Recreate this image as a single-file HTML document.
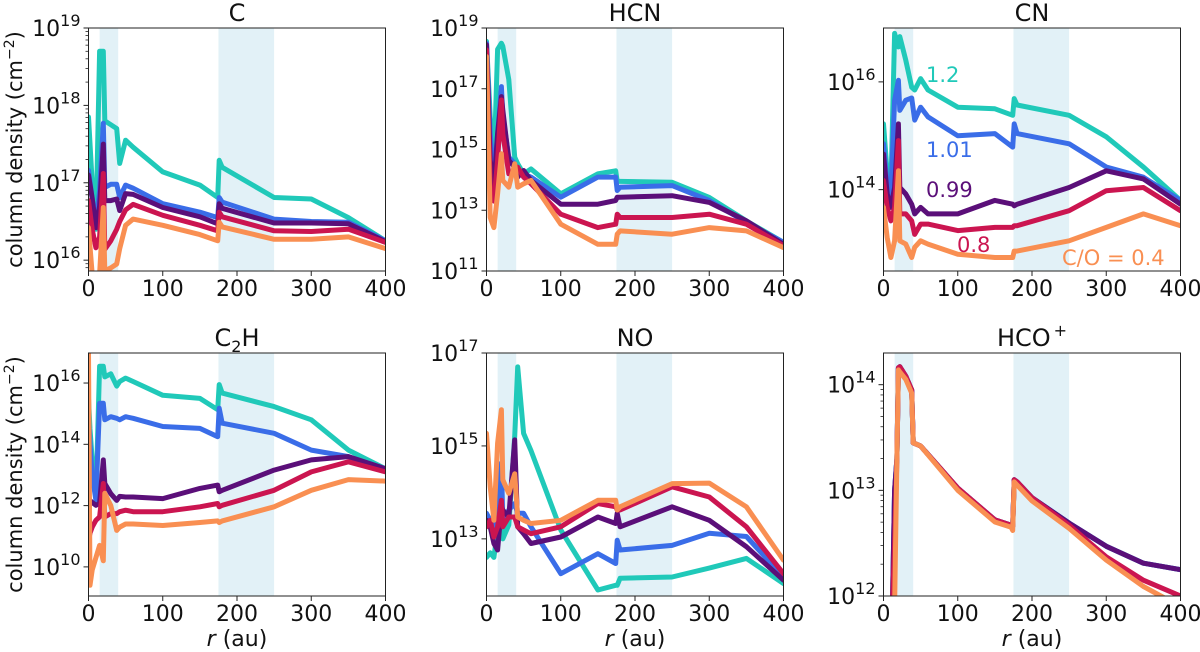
<!DOCTYPE html>
<html><head><meta charset="utf-8"><style>
html,body{margin:0;padding:0;background:#fff;width:1200px;height:652px;overflow:hidden}
svg{display:block;font-family:"DejaVu Sans","Liberation Sans",sans-serif}
</style></head><body>
<svg id="fig" width="1200" height="652" viewBox="0 0 1200 652"></svg>
<script>
const gridA = [0,5,10,15,20,22,30,38,42,50,60,100,150,174,176,180,250,300,350,400];
const gridC2H = [0,2,5,10,15,20,22,30,38,42,50,60,100,150,174,176,180,250,300,350,400];
const gridHCO = [0,12,15,18,20,22,30,38,40,50,100,150,172,174,176,180,200,250,300,350,400];
const seriesNames = ["1.2","1.01","0.99","0.8","0.4"];
const seriesColors = ["#20c9b9","#3a6de8","#5b0f79","#cb1550","#f98f52"];
const xTicks = [0,100,200,300,400];
const bands = [[15,40],[175,250]];

const cTeal=[17.85,17.0,16.4,18.7,18.7,17.8,17.75,17.7,17.25,17.55,17.46,17.14,16.97,16.81,17.29,17.2,16.81,16.79,16.55,16.25];
const cBlue=[17.16,16.8,16.47,16.9,17.77,16.94,16.98,16.98,16.81,16.97,16.93,16.73,16.62,16.55,16.81,16.75,16.53,16.5,16.49,16.25];
const cPurple=[17.1,16.8,16.42,16.7,17.5,16.77,16.77,16.79,16.64,16.86,16.85,16.68,16.56,16.47,16.73,16.67,16.48,16.48,16.47,16.24];
const cRed=[16.77,16.4,16.16,16.3,17.12,16.14,16.25,16.4,16.5,16.65,16.72,16.58,16.45,16.38,16.62,16.56,16.38,16.37,16.4,16.23];
const cOrange=[16.42,15.82,15.82,15.82,16.68,15.86,15.9,15.95,16.15,16.45,16.53,16.45,16.33,16.25,16.49,16.43,16.27,16.27,16.3,16.15];

const hcnTeal=[18.56,16.1,14.4,18.3,18.5,18.4,17.3,14.75,14.53,14.2,14.36,13.54,14.2,14.3,13.95,13.95,13.92,13.42,12.65,11.94];
const hcnBlue=[18.5,15.52,14.0,15.5,17.07,16.1,14.75,14.53,14.31,14.2,14.09,13.43,14.09,14.09,13.65,13.76,13.81,13.32,12.6,11.94];
const hcnPurple=[18.45,14.64,13.76,15.52,16.74,16.3,14.64,14.42,14.09,14.31,13.98,13.2,13.2,13.32,13.43,13.43,13.48,13.26,12.65,11.88];
const hcnRed=[18.28,13.76,13.3,14.64,16.63,15.52,14.2,14.2,14.42,14.09,13.87,12.87,12.43,12.54,12.87,12.76,12.76,12.87,12.54,11.83];
const hcnOrange=[18.06,12.76,12.43,13.54,14.86,13.98,13.76,14.53,13.76,13.87,13.98,12.54,11.88,11.88,12.21,12.32,12.21,12.43,12.32,11.77];

const cnTeal=[15.22,14.3,14.04,16.9,16.65,16.84,16.4,15.9,15.85,16.06,15.85,15.53,15.5,15.38,15.69,15.57,15.38,14.98,14.42,13.8];
const cnBlue=[14.85,14.1,13.92,15.66,16.03,15.47,15.66,15.7,15.29,15.53,15.35,15.0,15.04,14.79,15.22,15.04,14.85,14.42,14.23,13.8];
const cnPurple=[14.66,13.92,13.67,14.04,15.22,14.04,13.92,13.73,13.55,13.67,13.55,13.55,13.8,13.73,13.7,13.73,14.04,14.35,14.2,13.73];
const cnRed=[14.17,13.67,13.42,13.67,14.91,13.55,13.55,13.42,13.17,13.36,13.36,13.24,13.3,13.3,13.33,13.33,13.61,13.98,14.04,13.61];
const cnOrange=[13.67,13.11,12.74,13.05,14.35,13.05,12.99,12.74,12.93,13.05,12.99,12.8,12.74,12.74,12.86,12.86,13.05,13.3,13.55,13.33];

const c2hTeal=[15.5,14.5,13.5,12.28,16.55,16.55,16.2,16.3,15.9,16.05,16.16,16.05,15.6,15.5,15.13,15.95,15.67,15.23,14.8,13.81,13.2];
const c2hBlue=[15.0,14.0,13.0,12.17,15.34,15.34,14.8,14.9,14.85,14.8,14.9,14.85,14.58,14.52,14.25,15.18,14.69,14.36,13.81,13.6,13.2];
const c2hPurple=[12.2,12.17,12.1,12.01,12.07,13.49,12.72,12.39,12.17,12.3,12.28,12.28,12.23,12.56,12.67,12.45,12.5,13.16,13.49,13.6,13.2];
const c2hRed=[10.86,11.1,11.3,11.52,11.63,12.72,11.63,11.74,11.74,11.8,11.85,11.8,11.8,11.96,12.07,11.96,12.01,12.5,13.1,13.43,13.1];
const c2hOrange=[17.0,9.4,9.9,10.3,10.7,10.2,12.4,12.0,11.19,11.3,11.4,11.4,11.35,11.45,11.5,11.45,11.5,11.96,12.5,12.85,12.8];

const noTeal=[12.6,12.7,12.6,13.2,13.5,13.0,13.3,15.2,16.7,15.27,14.9,13.19,11.9,12.0,12.0,12.15,12.18,12.37,12.58,12.04];
const noBlue=[13.55,13.4,13.04,13.69,14.63,13.4,13.62,13.76,13.55,13.55,13.26,12.25,12.68,12.47,12.97,12.76,12.86,13.12,13.05,12.18];
const noPurple=[13.4,13.26,12.9,12.76,13.69,13.62,13.47,15.13,13.26,13.11,12.9,13.04,13.47,13.33,13.55,13.26,13.69,13.4,12.83,12.11];
const noRed=[13.26,13.4,13.04,13.26,13.83,13.26,13.47,13.47,13.26,13.19,13.11,13.26,13.76,13.69,13.62,13.62,14.12,13.9,13.26,12.25];
const noOrange=[15.27,14.12,13.4,15.06,15.78,14.27,13.98,14.4,13.47,13.4,13.33,13.4,13.83,13.83,13.62,13.69,14.19,14.2,13.69,12.54];

const hcoPurple=[11.0,11.9,13.0,13.3,14.16,14.17,14.08,13.95,13.45,13.42,13.02,12.72,12.67,12.66,13.1,13.08,12.93,12.69,12.47,12.31,12.25];
const hcoRed=[11.0,11.9,12.5,13.3,14.16,14.17,14.08,13.95,13.45,13.42,13.02,12.72,12.67,12.66,13.1,13.08,12.93,12.67,12.37,12.15,12.0];
const hcoOrange=[11.0,11.0,11.9,13.3,14.14,14.12,14.05,13.92,13.45,13.42,13.0,12.7,12.65,12.62,13.08,13.05,12.9,12.64,12.34,12.09,11.9];

const NS="http://www.w3.org/2000/svg";
const svg=document.getElementById('fig');
function mk(tag,attrs,parent){const e=document.createElementNS(NS,tag);for(const k in attrs)e.setAttribute(k,attrs[k]);(parent||svg).appendChild(e);return e;}

const panels=[
 {id:"c",title:"C",x:88.5,y:28,lo:15.86,hi:19,ticks:[16,17,18,19],minor:true,grid:gridA,data:[cTeal,cBlue,cPurple,cRed,cOrange],ylab:true,xlab:false},
 {id:"hcn",title:"HCN",x:486.5,y:28,lo:11,hi:19,ticks:[11,13,15,17,19],minor:false,grid:gridA,data:[hcnTeal,hcnBlue,hcnPurple,hcnRed,hcnOrange],ylab:false,xlab:false},
 {id:"cn",title:"CN",x:883.5,y:28,lo:12.49,hi:17.0,ticks:[14,16],minor:false,grid:gridA,data:[cnTeal,cnBlue,cnPurple,cnRed,cnOrange],ylab:false,xlab:false},
 {id:"c2h",title:"C2H",x:88.5,y:353,lo:9.05,hi:16.98,ticks:[10,12,14,16],minor:false,grid:gridC2H,data:[c2hTeal,c2hBlue,c2hPurple,c2hRed,c2hOrange],ylab:true,xlab:true},
 {id:"no",title:"NO",x:486.5,y:353,lo:11.77,hi:17,ticks:[13,15,17],minor:false,grid:gridA,data:[noTeal,noBlue,noPurple,noRed,noOrange],ylab:false,xlab:true},
 {id:"hco",title:"HCO+",x:883.5,y:353,lo:12,hi:14.3,ticks:[12,13,14],minor:true,grid:gridHCO,data:[hcoPurple,hcoPurple,hcoPurple,hcoRed,hcoOrange],ylab:false,xlab:true}
];
const W=297,H=243;

panels.forEach(p=>{
 const g=mk('g',{});
 
 
 const xs=r=>p.x+r/400*W;
 const ys=v=>p.y+(p.hi-v)/(p.hi-p.lo)*H;
 const cp=mk('clipPath',{id:'clip-'+p.id},g);
 mk('rect',{x:p.x,y:p.y,width:W,height:H},cp);
 bands.forEach((b,i)=>{
  const r=mk('rect',{x:xs(b[0]),y:p.y,width:xs(b[1])-xs(b[0]),height:H,fill:'#e2f1f7'},g);
  
  
 });
 const lg=mk('g',{'clip-path':'url(#clip-'+p.id+')'},g);
 p.data.forEach((vals,si)=>{
  const d=vals.map((v,i)=>(i?'L':'M')+xs(p.grid[i]).toFixed(1)+','+ys(v).toFixed(1)).join(' ');
  const path=mk('path',{d:d,fill:'none',stroke:seriesColors[si],'stroke-width':5,'stroke-linejoin':'round','stroke-linecap':'round'},lg);
  
  
 });
 const fr=mk('rect',{x:p.x,y:p.y,width:W,height:H,fill:'none',stroke:'#222','stroke-width':1},g);
 
 
 xTicks.forEach(t=>{
  mk('line',{x1:xs(t),x2:xs(t),y1:p.y+H,y2:p.y+H+5,stroke:'#222'},g);
  const tx=mk('text',{x:xs(t),y:p.y+H+25,'text-anchor':'middle','font-size':22,fill:'#111'},g);
  tx.textContent=t;
  
  
 });
 p.ticks.forEach(t=>{
  const y=ys(t);
  mk('line',{x1:p.x-5,x2:p.x,y1:y,y2:y,stroke:'#222'},g);
  const tx=mk('text',{x:p.x-8,y:y+8,'text-anchor':'end','font-size':22,fill:'#111'},g);
  
  
  const a=mk('tspan',{},tx);a.textContent='10';
  const b=mk('tspan',{dy:-10,'font-size':16},tx);b.textContent=t;
 });
 if(p.minor){
  for(let d=Math.floor(p.lo);d<p.hi;d++){for(let m=2;m<10;m++){const v=d+Math.log10(m);if(v>p.lo&&v<p.hi){const y=ys(v);mk('line',{x1:p.x-3,x2:p.x,y1:y,y2:y,stroke:'#222','stroke-width':0.8},g);}}}
 }
 const tt=mk('text',{x:p.x+W/2,y:p.y-7,'text-anchor':'middle','font-size':24,fill:'#111'},g);
 
 
 if(p.title==='C2H'){const a=mk('tspan',{},tt);a.textContent='C';const b=mk('tspan',{dy:6,'font-size':16},tt);b.textContent='2';const c=mk('tspan',{dy:-6},tt);c.textContent='H';}
 else if(p.title==='HCO+'){const a=mk('tspan',{},tt);a.textContent='HCO';const b=mk('tspan',{dy:-10,'font-size':16,dx:3},tt);b.textContent='+';}
 else tt.textContent=p.title;
 if(p.ylab){
  const cy=p.y+H/2;
  const yl=mk('text',{x:0,y:0,transform:'translate(22,'+cy+') rotate(-90)','text-anchor':'middle','font-size':21,fill:'#111'},g);
  
  
  const a=mk('tspan',{},yl);a.textContent='column density (cm';
  const b=mk('tspan',{dy:-8,'font-size':14},yl);b.textContent='−2';
  const c=mk('tspan',{dy:8},yl);c.textContent=')';
 }
 if(p.xlab){
  const xl=mk('text',{x:p.x+W/2,y:p.y+H+50,'text-anchor':'middle','font-size':22,fill:'#111'},g);
  
  
  const a=mk('tspan',{'font-style':'italic'},xl);a.textContent='r';
  const b=mk('tspan',{},xl);b.textContent=' (au)';
 }
});

const ann=[["1.2",926,82,0],["1.01",926,157,1],["0.99",926,197,2],["0.8",957,252,3],["C/O = 0.4",1062,265,4]];
ann.forEach(a=>{
 const t=mk('text',{x:a[1],y:a[2],'font-size':21,fill:seriesColors[a[3]]});
 t.textContent=a[0];
 
 
});
</script>
</body></html>
